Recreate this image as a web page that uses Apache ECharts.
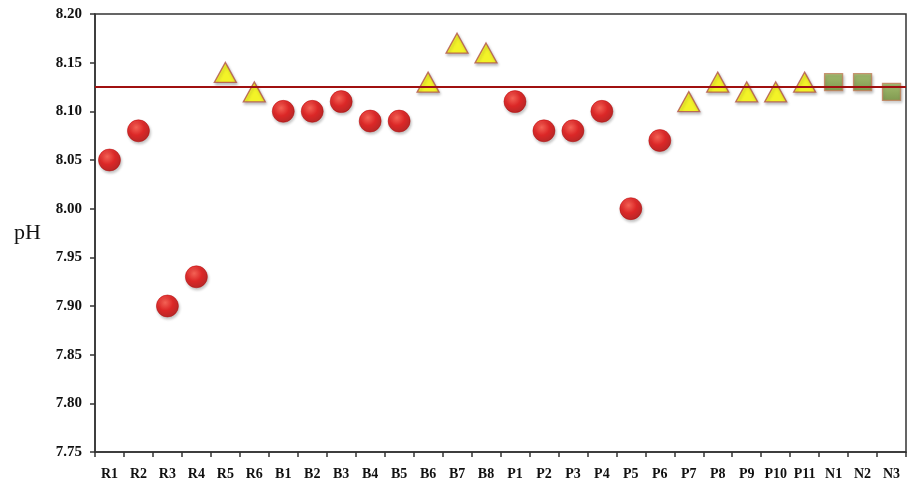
<!DOCTYPE html>
<html>
<head>
<meta charset="utf-8">
<script src="https://cdn.jsdelivr.net/npm/echarts@6/dist/echarts.min.js"></script>
<style>html,body{margin:0;padding:0;background:#fff;}#c{width:909px;height:482px;}</style>
</head>
<body>
<div id="c"></div>
<script>
const categories = ['R1','R2','R3','R4','R5','R6','B1','B2','B3','B4','B5','B6','B7','B8','P1','P2','P3','P4','P5','P6','P7','P8','P9','P10','P11','N1','N2','N3'];
const phValues = [8.05,8.08,7.90,7.93,8.14,8.12,8.10,8.10,8.11,8.09,8.09,8.13,8.17,8.16,8.11,8.08,8.08,8.10,8.00,8.07,8.11,8.13,8.12,8.12,8.13,8.13,8.13,8.12];
const markerTypes = ['c','c','c','c','t','t','c','c','c','c','c','t','t','t','c','c','c','c','c','c','t','t','t','t','t','s','s','s'];
const referenceLine = 8.125;
const yTicks = {min: 7.75, max: 8.20, step: 0.05};

function pick(type){ return phValues.map((v,i)=> markerTypes[i]===type ? v : null); }
const serif = '"Liberation Serif", "DejaVu Serif", serif';
const shadow = {shadowColor:'rgba(0,0,0,0.3)', shadowBlur:3, shadowOffsetX:1, shadowOffsetY:2};

const chart = echarts.init(document.getElementById('c'), null, {renderer:'canvas'});
chart.setOption({
  animation:false,
  grid:{left:95, top:14, right:3, bottom:30, show:true, borderColor:'#333', borderWidth:1.5, backgroundColor:'transparent'},
  xAxis:{
    type:'category', data:categories, boundaryGap:true,
    axisLine:{lineStyle:{color:'#333', width:1.5}},
    axisTick:{show:true, inside:false, length:5, alignWithLabel:false, lineStyle:{color:'#333', width:1.5}},
    axisLabel:{color:'#111', fontFamily:serif, fontWeight:'bold', fontSize:14, margin:15, interval:0},
    splitLine:{show:false}
  },
  yAxis:{
    type:'value', min:yTicks.min, max:yTicks.max, interval:yTicks.step,
    name:'pH', nameLocation:'middle', nameRotate:0, nameGap:54,
    nameTextStyle:{fontFamily:serif, fontSize:22, color:'#111', padding:[12,0,0,0]},
    axisLine:{show:true, lineStyle:{color:'#333', width:1.5}},
    axisTick:{show:true, length:5, lineStyle:{color:'#333', width:1.5}},
    axisLabel:{color:'#111', fontFamily:serif, fontWeight:'bold', fontSize:15, margin:13, formatter:v=>v.toFixed(2)},
    splitLine:{show:false}
  },
  series:[
    {
      type:'scatter', data:pick('c'), symbol:'circle', symbolSize:22, z:3,
      itemStyle:Object.assign({
        color:{type:'radial', x:0.4, y:0.35, r:0.7, colorStops:[{offset:0,color:'#ff4a3a'},{offset:0.5,color:'#e20000'},{offset:1,color:'#b00000'}]},
        borderColor:'#b00000', borderWidth:0.6
      }, shadow),
      markLine:{
        silent:true, symbol:['none','none'], label:{show:false}, precision:3,
        lineStyle:{color:'#a01010', width:2, type:'solid'},
        data:[{yAxis:referenceLine}]
      }
    },
    {
      type:'scatter', data:pick('t'), symbol:'triangle', symbolSize:[22,20], z:4,
      itemStyle:Object.assign({color:'#ffff00', borderColor:'#b0504a', borderWidth:1.3}, shadow)
    },
    {
      type:'scatter', data:pick('s'), symbol:'rect', symbolSize:[18,17], z:4,
      itemStyle:Object.assign({
        color:{type:'linear', x:0, y:0, x2:0, y2:1, colorStops:[{offset:0,color:'#9bbb59'},{offset:1,color:'#6f8f33'}]},
        borderColor:'#c0805a', borderWidth:1.3
      }, shadow)
    }
  ]
});
</script>
</body>
</html>
